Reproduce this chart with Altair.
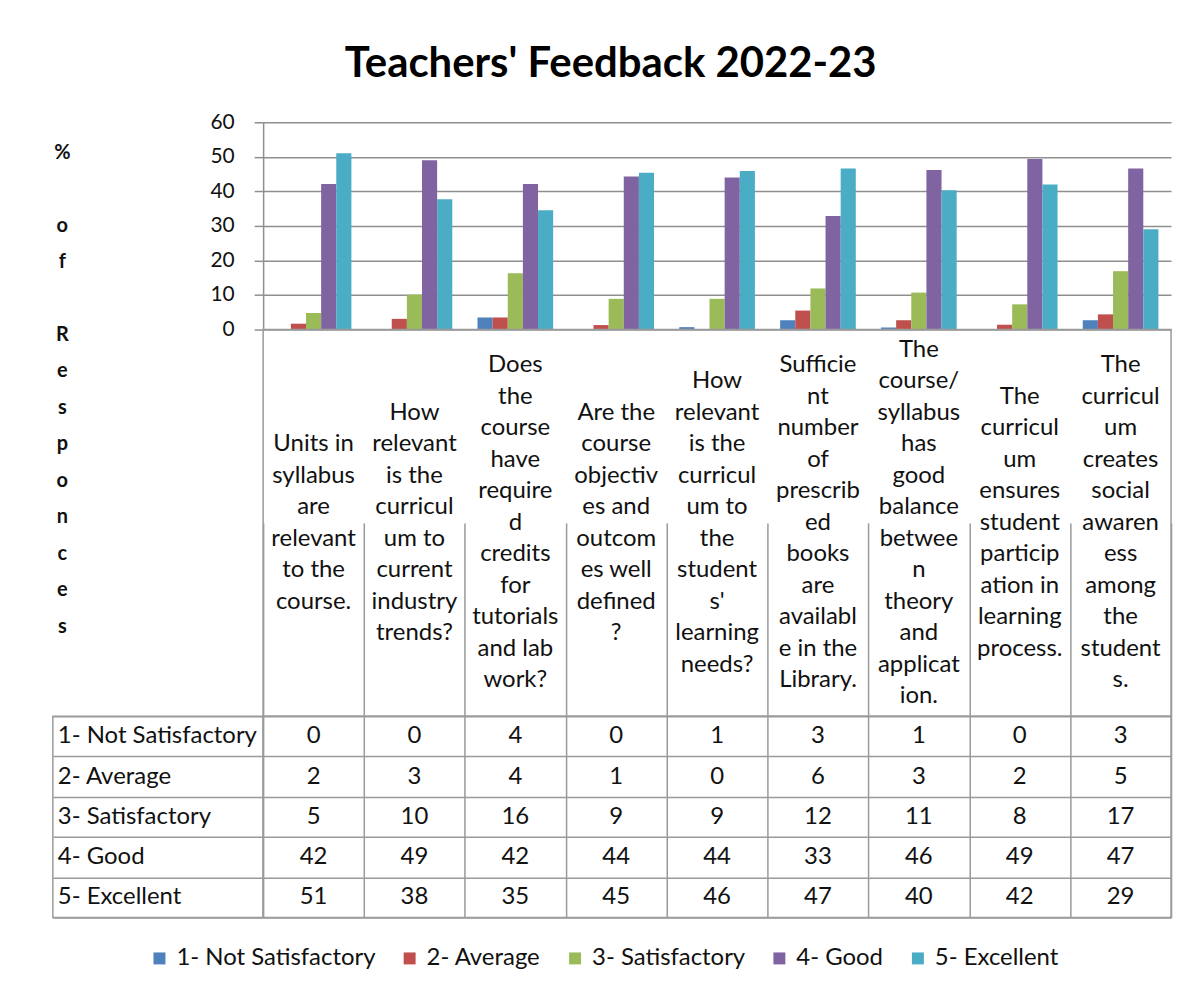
import altair as alt
import pandas as pd

# ---------------- data ----------------
categories = ["Q1", "Q2", "Q3", "Q4", "Q5", "Q6", "Q7", "Q8", "Q9"]
category_lines = [
    ["Units in", "syllabus", "are", "relevant", "to the", "course."],
    ["How", "relevant", "is the", "curricul", "um to", "current", "industry", "trends?"],
    ["Does", "the", "course", "have", "require", "d", "credits", "for", "tutorials", "and lab", "work?"],
    ["Are the", "course", "objectiv", "es and", "outcom", "es well", "defined", "?"],
    ["How", "relevant", "is the", "curricul", "um to", "the", "student", "s'", "learning", "needs?"],
    ["Sufficie", "nt", "number", "of", "prescrib", "ed", "books", "are", "availabl", "e in the", "Library."],
    ["The", "course/", "syllabus", "has", "good", "balance", "betwee", "n", "theory", "and", "applicat", "ion."],
    ["The", "curricul", "um", "ensures", "student", "particip", "ation in", "learning", "process."],
    ["The", "curricul", "um", "creates", "social", "awaren", "ess", "among", "the", "student", "s."],
]
series = ["1- Not Satisfactory", "2- Average", "3- Satisfactory", "4- Good", "5- Excellent"]

# bar heights (percent, as drawn)
not_satisfactory = [0, 0, 3.5, 0, 0.7, 2.7, 0.6, 0, 2.7]
average = [1.7, 3.1, 3.5, 1.3, 0, 5.5, 2.7, 1.4, 4.4]
satisfactory = [4.8, 10.1, 16.3, 8.9, 8.9, 11.9, 10.7, 7.3, 16.9]
good = [42.1, 49.0, 42.1, 44.3, 44.0, 32.9, 46.2, 49.4, 46.6]
excellent = [51.0, 37.7, 34.5, 45.4, 45.9, 46.6, 40.3, 42.0, 29.0]

# rounded values printed in the data table
table_not_satisfactory = [0, 0, 4, 0, 1, 3, 1, 0, 3]
table_average = [2, 3, 4, 1, 0, 6, 3, 2, 5]
table_satisfactory = [5, 10, 16, 9, 9, 12, 11, 8, 17]
table_good = [42, 49, 42, 44, 44, 33, 46, 49, 47]
table_excellent = [51, 38, 35, 45, 46, 47, 40, 42, 29]

y_ticks = [0, 10, 20, 30, 40, 50, 60]
BLANK = "\u2800"  # blank line in the stacked axis title
y_title = ["%", BLANK, "o", "f", BLANK, "R", "e", "s", "p", "o", "n", "c", "e", "s"]
colors = ["#4F81BD", "#C0504D", "#9BBB59", "#8064A2", "#4BACC6"]

# ---------------- tables ----------------
bar_values = [not_satisfactory, average, satisfactory, good, excellent]
table_values = [table_not_satisfactory, table_average, table_satisfactory, table_good, table_excellent]

bars_df = pd.DataFrame(
    [{"cat": c, "series": s, "value": vals[i]}
     for s, vals in zip(series, bar_values) for i, c in enumerate(categories)]
)
labels_df = pd.DataFrame({"cat": categories, "lines": category_lines})
table_df = pd.DataFrame(
    [{"cat": c, "row": s, "val": str(vals[i])}
     for s, vals in zip(series, table_values) for i, c in enumerate(categories)]
)
rows_df = pd.DataFrame({"row": series})

FONT = "Lato"
LINE = "#9a9a9a"
GRID = "#8f8f8f"
TXT = "#111111"
W_LEFT, W_MAIN = 211, 911
H_BARS, H_LABELS, H_TABLE = 208, 388, 202
LH = 31.6  # line height of the wrapped category labels

band_x = alt.Scale(paddingInner=0, paddingOuter=0)
grid_axis = alt.Axis(grid=True, tickBand="extent", labels=False, ticks=False, domain=False,
                     title=None, gridColor=LINE, gridWidth=1.5)
framed = alt.ViewBackground(stroke=LINE, strokeWidth=1.5)
unframed = alt.ViewBackground(stroke="transparent")

# ---------------- bar chart ----------------
bars = alt.Chart(bars_df).mark_bar().encode(
    x=alt.X("cat:N", sort=categories,
            scale=alt.Scale(paddingInner=0.25, paddingOuter=0.125), axis=None),
    xOffset=alt.XOffset("series:N", sort=series,
                        scale=alt.Scale(paddingInner=0, paddingOuter=0)),
    y=alt.Y("value:Q", scale=alt.Scale(domain=[0, 60], nice=False),
            axis=alt.Axis(values=y_ticks, grid=True, gridColor=GRID, gridWidth=1.5,
                          domainColor=GRID, domainWidth=1.5, tickColor=GRID, tickWidth=1.5,
                          tickSize=9, labelPadding=20, labelFontSize=21, labelColor=TXT,
                          title=y_title, titleAngle=0, titleX=-202, titleY=20,
                          titleAlign="center", titleBaseline="top", titleLineHeight=36.6,
                          titleFontSize=20, titleFontWeight="bold", titleColor=TXT)),
    color=alt.Color("series:N", sort=series,
                    scale=alt.Scale(domain=series, range=colors),
                    legend=alt.Legend(title=None, orient="none", direction="horizontal",
                                      legendX=95, legendY=827, symbolType="square",
                                      symbolSize=144, symbolStrokeWidth=0,
                                      labelFontSize=24, labelColor=TXT, labelLimit=0,
                                      labelOffset=5, columnPadding=22)),
).properties(width=W_MAIN, height=H_BARS, view=unframed)

# ---------------- category label row ----------------
cat_labels = alt.Chart(labels_df).transform_calculate(
    half="(length(datum.lines) - 1) / 2"
).mark_text(
    fontSize=24, lineHeight=LH, align="center", baseline="middle", color=TXT
).encode(
    x=alt.X("cat:N", sort=categories, scale=band_x, axis=grid_axis),
    y=alt.Y("half:Q", scale=alt.Scale(domain=[0, H_LABELS / 2 / LH], range=[H_LABELS / 2, 0]),
            axis=None),
    text="lines",
).properties(width=W_MAIN, height=H_LABELS, view=framed)

# ---------------- data table ----------------
table = alt.Chart(table_df).mark_text(fontSize=24, color=TXT).encode(
    x=alt.X("cat:N", sort=categories, scale=band_x, axis=grid_axis),
    y=alt.Y("row:N", sort=series, scale=band_x, axis=grid_axis),
    text="val:N",
).properties(width=W_MAIN, height=H_TABLE, view=framed)

row_labels = alt.Chart(rows_df).mark_text(
    fontSize=24, align="left", color=TXT
).encode(
    x=alt.value(5),
    y=alt.Y("row:N", sort=series, scale=band_x, axis=grid_axis),
    text="row:N",
).properties(width=W_LEFT, height=H_TABLE, view=framed)

# ---------------- empty corner cells ----------------
blank_df = pd.DataFrame({"a": [0]})
blank1 = alt.Chart(blank_df).mark_point(opacity=0).encode(
    x=alt.value(0), y=alt.value(0)).properties(width=W_LEFT, height=H_BARS, view=unframed)
blank2 = alt.Chart(blank_df).mark_point(opacity=0).encode(
    x=alt.value(0), y=alt.value(0)).properties(width=W_LEFT, height=H_LABELS, view=unframed)

chart = alt.concat(
    blank1, bars,
    blank2, cat_labels,
    row_labels, table,
    columns=2, spacing=0, bounds="flush",
    title=alt.Title("Teachers' Feedback 2022-23", fontSize=42, fontWeight="bold",
                    font=FONT, color="#000000", anchor="middle", offset=25),
).resolve_scale(x="independent", y="independent").properties(
    padding={"left": 41, "top": 33, "right": 10, "bottom": 10}
).configure(font=FONT)

chart.save("out.html", embed_options={"renderer": "svg", "actions": False})
